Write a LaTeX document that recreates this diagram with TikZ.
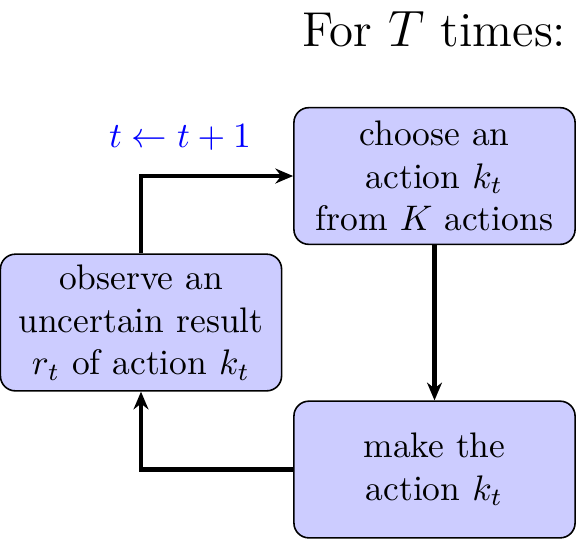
\documentclass[tikz,border=0pt]{standalone}
\usetikzlibrary{arrows.meta}
\definecolor{boxfill}{RGB}{204,204,255}
\begin{document}
\begin{tikzpicture}[x=0.2817pt,y=-0.2817pt,
  stepbox/.style={draw=black,line width=0.45pt,fill=boxfill,rounded corners=4.2pt,
    minimum width=79.2pt,minimum height=38.5pt,align=center,inner sep=2pt},
  flow/.style={line width=1.15pt,-{Stealth[length=5pt,width=4.2pt]}}]
\useasboundingbox (0,0) rectangle (580,540);
\node[anchor=base east,inner sep=0pt,font=\fontsize{13.8}{16}\selectfont] (title) at (567,46) {For $T$ times:};
\node[stepbox] (choose) at (434.5,176) {choose an\\action $k_t$\\from $K$ actions};
\node[stepbox] (observe) at (141,322.5) {observe an\\uncertain result\\$r_t$ of action $k_t$};
\node[stepbox] (make) at (434.5,469.5) {make the\\action $k_t$};
\node[text=blue,inner sep=0pt] (update) at (180,138) {$t\leftarrow t+1$};
\draw[flow] (observe.north) |- (choose.west);
\draw[flow] (choose.south) -- (make.north);
\draw[flow] (make.west) -| (observe.south);
\end{tikzpicture}
\end{document}
